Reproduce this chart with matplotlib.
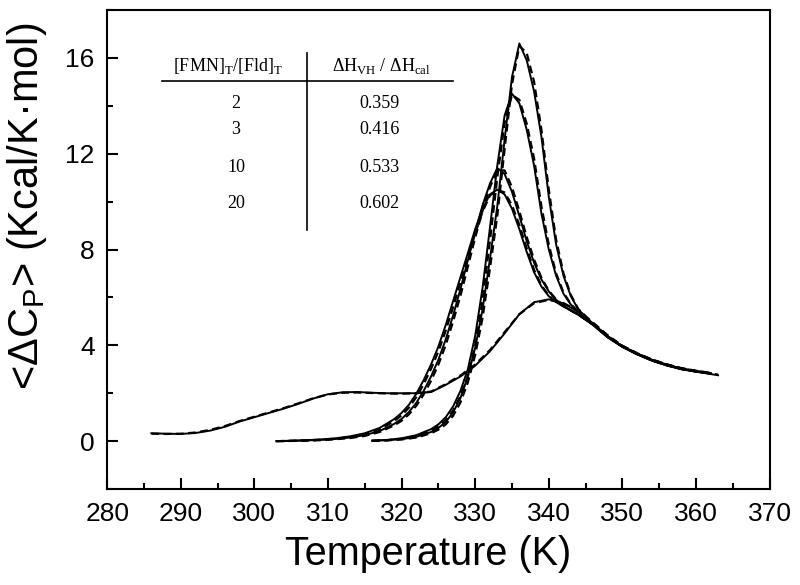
import matplotlib.pyplot as plt
from matplotlib.ticker import MultipleLocator

plt.rcParams['font.family'] = 'Liberation Sans'
plt.rcParams['mathtext.fontset'] = 'custom'
plt.rcParams['mathtext.rm'] = 'Liberation Serif'
plt.rcParams['mathtext.sf'] = 'Liberation Sans'

# ---- data ----
# broad curve
temp_a = [286, 288, 290, 292, 294, 296, 298, 300, 302, 304, 306, 308, 310, 312, 314, 316, 318, 320, 322, 324,
          326, 328, 330, 332, 334, 336, 338, 340, 342, 344, 346, 348, 350, 352, 354, 356, 358, 360, 362, 363]
cp_a = [0.33, 0.31, 0.30, 0.34, 0.44, 0.60, 0.82, 1.00, 1.18, 1.36, 1.56, 1.78, 1.96, 2.04, 2.05, 2.02, 2.00, 2.00, 2.00, 2.05,
        2.35, 2.70, 3.15, 3.75, 4.50, 5.30, 5.80, 5.92, 5.75, 5.40, 4.90, 4.38, 3.95, 3.65, 3.38, 3.18, 3.02, 2.90, 2.80, 2.75]
fit_a = [0.31, 0.30, 0.31, 0.36, 0.47, 0.63, 0.84, 1.02, 1.20, 1.38, 1.58, 1.79, 1.95, 2.02, 2.03, 2.01, 1.99, 1.98, 2.00, 2.07,
         2.38, 2.74, 3.20, 3.80, 4.55, 5.30, 5.76, 5.90, 5.76, 5.44, 4.95, 4.42, 3.98, 3.66, 3.40, 3.20, 3.04, 2.92, 2.82, 2.78]

# two curves starting at 303 K
temp_bc = [303, 305, 307, 309, 311, 313, 315, 317, 319, 320, 321, 322, 323, 324, 325, 326, 327, 328, 329, 330,
           331, 332, 333, 334, 335, 336, 337, 338, 339, 340, 341, 342, 343, 344, 346, 348, 350, 352, 354, 356,
           358, 360, 362]
cp_b = [0.00, 0.02, 0.04, 0.07, 0.12, 0.20, 0.33, 0.55, 0.92, 1.18, 1.52, 1.98, 2.55, 3.20, 3.95, 4.85, 5.85, 6.85, 7.85, 8.85,
        9.70, 10.30, 10.50, 10.30, 9.70, 8.85, 7.90, 7.05, 6.45, 6.05, 5.80, 5.62, 5.45, 5.28, 4.85, 4.33, 3.93, 3.62, 3.36, 3.16,
        3.00, 2.90, 2.82]
fit_b = [0.00, 0.01, 0.03, 0.06, 0.10, 0.17, 0.29, 0.49, 0.84, 1.08, 1.40, 1.84, 2.38, 3.02, 3.75, 4.62, 5.60, 6.62, 7.65, 8.68,
         9.58, 10.25, 10.50, 10.38, 9.85, 9.02, 8.05, 7.15, 6.50, 6.08, 5.82, 5.63, 5.46, 5.30, 4.88, 4.36, 3.95, 3.63, 3.37, 3.17,
         3.01, 2.91, 2.83]
cp_c = [0.00, 0.01, 0.03, 0.05, 0.09, 0.15, 0.25, 0.42, 0.72, 0.93, 1.22, 1.60, 2.10, 2.70, 3.40, 4.25, 5.25, 6.35, 7.55, 8.75,
        9.85, 10.75, 11.40, 11.15, 10.40, 9.40, 8.35, 7.45, 6.75, 6.25, 5.90, 5.65, 5.45, 5.28, 4.86, 4.34, 3.94, 3.63, 3.37, 3.17,
        3.01, 2.91, 2.83]
fit_c = [0.00, 0.01, 0.02, 0.04, 0.08, 0.13, 0.22, 0.38, 0.66, 0.85, 1.12, 1.48, 1.95, 2.52, 3.20, 4.02, 5.00, 6.08, 7.28, 8.50,
         9.62, 10.60, 11.30, 11.30, 10.60, 9.60, 8.52, 7.58, 6.82, 6.28, 5.92, 5.66, 5.46, 5.29, 4.87, 4.35, 3.95, 3.64, 3.38, 3.18,
         3.02, 2.92, 2.84]

# two curves starting at 316 K
temp_de = [316, 318, 320, 322, 324, 325, 326, 327, 328, 329, 330, 331, 332, 333, 334, 335, 336, 337, 338, 339,
           340, 341, 342, 343, 344, 346, 348, 350, 352, 354, 356, 358, 360, 362]
cp_d = [0.02, 0.05, 0.12, 0.25, 0.50, 0.70, 1.00, 1.45, 2.10, 3.00, 4.40, 6.40, 8.90, 11.50, 13.60, 14.50, 14.10, 13.00, 11.50, 9.50,
        8.00, 6.90, 6.15, 5.70, 5.38, 4.88, 4.36, 3.95, 3.64, 3.38, 3.18, 3.02, 2.91, 2.82]
fit_d = [0.01, 0.04, 0.10, 0.21, 0.43, 0.61, 0.88, 1.28, 1.88, 2.72, 4.00, 5.90, 8.35, 11.00, 13.30, 14.45, 14.25, 13.25, 11.80, 9.80,
         8.20, 7.00, 6.20, 5.72, 5.40, 4.90, 4.38, 3.97, 3.66, 3.40, 3.20, 3.04, 2.93, 2.84]
cp_e = [0.02, 0.04, 0.08, 0.18, 0.38, 0.55, 0.80, 1.20, 1.80, 2.70, 3.90, 5.50, 7.60, 9.80, 12.60, 15.20, 16.60, 15.90, 14.60, 12.70,
        10.20, 8.20, 6.90, 6.05, 5.50, 4.90, 4.37, 3.96, 3.65, 3.39, 3.19, 3.03, 2.92, 2.83]
fit_e = [0.01, 0.03, 0.07, 0.15, 0.33, 0.48, 0.70, 1.06, 1.62, 2.45, 3.60, 5.15, 7.20, 9.40, 12.20, 14.90, 16.50, 16.20, 15.00, 13.00,
         10.50, 8.40, 7.00, 6.10, 5.52, 4.92, 4.39, 3.98, 3.67, 3.41, 3.21, 3.05, 2.94, 2.85]

# inset table
ratios = ['2', '3', '10', '20']
vh_cal = ['0.359', '0.416', '0.533', '0.602']
row_cp = [14.08, 13.0, 11.42, 9.92]

fig = plt.figure(figsize=(8, 5.85), dpi=100)
ax = fig.add_axes([0.134, 0.164, 0.828, 0.819])

solid = dict(color='black', lw=1.4, zorder=3)
dashed = dict(color='black', lw=1.6, ls=(0, (3.5, 2)), zorder=2)

ax.plot(temp_a, cp_a, **solid)
ax.plot(temp_a, fit_a, **dashed)
ax.plot(temp_bc, cp_b, **solid)
ax.plot(temp_bc, fit_b, **dashed)
ax.plot(temp_bc, cp_c, **solid)
ax.plot(temp_bc, fit_c, **dashed)
ax.plot(temp_de, cp_d, **solid)
ax.plot(temp_de, fit_d, **dashed)
ax.plot(temp_de, cp_e, **solid)
ax.plot(temp_de, fit_e, **dashed)

ax.set_xlim(280, 370)
ax.set_ylim(-2, 18)
ax.xaxis.set_major_locator(MultipleLocator(10))
ax.xaxis.set_minor_locator(MultipleLocator(5))
ax.yaxis.set_major_locator(MultipleLocator(4))
ax.yaxis.set_minor_locator(MultipleLocator(2))
ax.set_yticks([0, 4, 8, 12, 16])
ax.tick_params(which='both', direction='in', width=1.5, top=False, right=False)
ax.tick_params(which='major', length=8, labelsize=19, pad=9)
ax.tick_params(which='minor', length=4)
for sp in ax.spines.values():
    sp.set_linewidth(1.5)

ax.set_xlabel('Temperature (K)', fontsize=28.5)
ax.xaxis.set_label_coords(0.484, -0.095)
ax.set_ylabel(r'<ΔC$_\mathsf{P}$> (Kcal/K·mol)', fontsize=30)
ax.yaxis.set_label_coords(-0.088, 0.59)

# table inset
tfont = dict(family='Liberation Serif', fontsize=13, ha='center', va='center')
ax.text(296.4, 15.67, r'[FMN]$_\mathrm{T}$/[Fld]$_\mathrm{T}$', **tfont)
ax.text(317.3, 15.67, r'ΔH$_\mathrm{VH}$ / ΔH$_\mathrm{cal}$', **tfont)
ax.plot([287.5, 327.0], [15.04, 15.04], color='black', lw=1.2)
ax.plot([307.1, 307.1], [16.2, 8.8], color='black', lw=1.2)
for r, v, y in zip(ratios, vh_cal, row_cp):
    ax.text(297.5, y, r, **tfont)
    ax.text(317.0, y, v, **tfont)

fig.savefig('out.png', dpi=100)
